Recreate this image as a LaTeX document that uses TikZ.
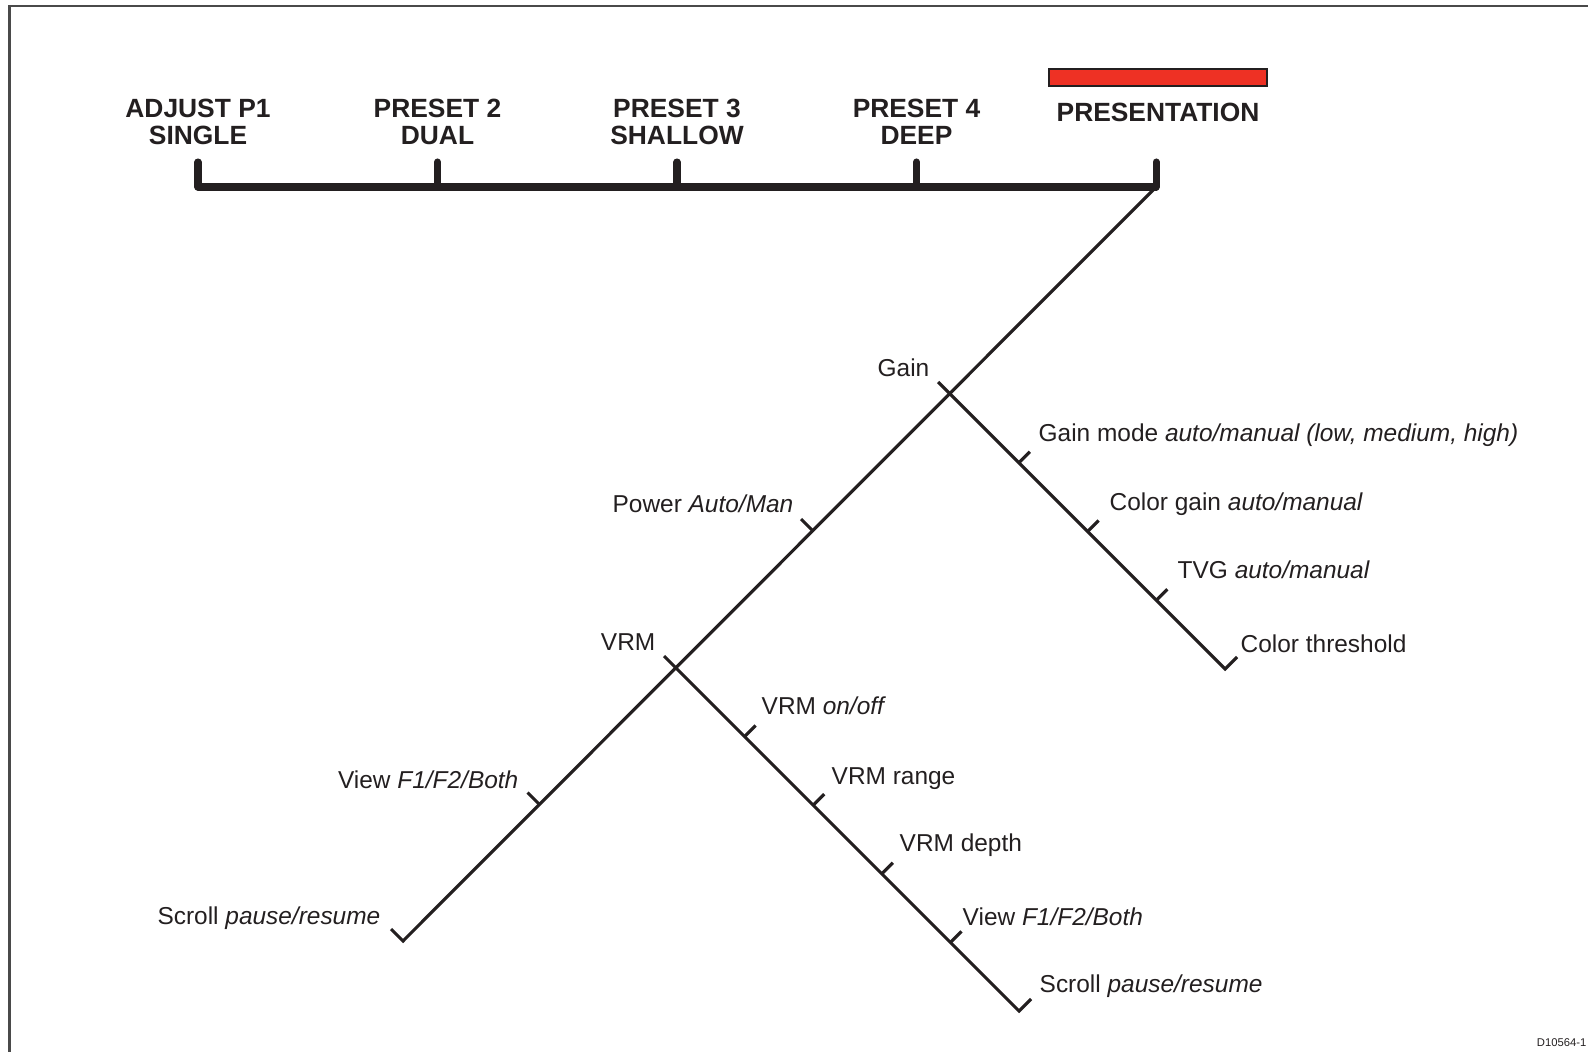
\documentclass[tikz,border=0pt]{standalone}
\usepackage{fontspec}
\setmainfont{Liberation Sans}
\usetikzlibrary{calc}

\begin{document}
\begin{tikzpicture}[x=0.01cm,y=-0.01cm,
  titolo/.style={font=\fontsize{7.5pt}{7.7pt}\selectfont\bfseries, text=testo, inner sep=0pt},
  etichetta/.style={font=\fontsize{6.95pt}{8pt}\selectfont, text=testo, inner sep=0pt},
  barra/.style={line width=2pt, draw=testo, line cap=round, line join=round},
  ramo/.style={line width=0.9pt, draw=testo},
  cornice/.style={line width=0.6pt, draw=grigioCornice}]

% Colori
\definecolor{testo}{HTML}{231F20}
\definecolor{rossoSel}{HTML}{EE3124}
\definecolor{grigioCornice}{HTML}{4A4A4A}

% Lunghezza delle tacche
\def\t{12}

\useasboundingbox (0,0) rectangle (1588,1052);

% Cornice
\draw[cornice] (1588,6) -- (9.5,6) -- (9.5,1052);

% Barra dei preset
\draw[barra] (198,162) -- (198,187) -- (1156,187) -- (1156,162);
\foreach \x in {437.5,677,916.5}
  \draw[barra] (\x,162) -- (\x,187);

\foreach \x/\a/\b/\n in {198/ADJUST P1/SINGLE/pUno, 437.5/PRESET 2/DUAL/pDue,
                         677/PRESET 3/SHALLOW/pTre, 916.5/PRESET 4/DEEP/pQuattro} {
  \node[titolo, anchor=base] (\n a) at (\x,118) {\a};
  \node[titolo, anchor=base] (\n b) at (\x,145) {\b};
}

% Voce selezionata
\fill[rossoSel, draw=testo, line width=0.3pt] (1049,69) rectangle (1267,86);
\node[titolo, anchor=base] (pres) at (1158,122) {PRESENTATION};

% Punti dei rami
\coordinate (angolo) at (1156,187);
\coordinate (jGain) at (950,394);
\coordinate (jVrm) at (676,668);
\coordinate (fondo) at (403,941);
\coordinate (fineGain) at (1225,669);
\coordinate (fineVrm) at (1019,1011);

% Ramo principale
\draw[ramo] (angolo) -- (fondo) -- ++(-\t,-\t);
\draw[ramo] ($(jGain)!0.5!(jVrm)$) -- ++(-\t,-\t);
\draw[ramo] ($(jVrm)!0.5!(fondo)$) -- ++(-\t,-\t);

% Ramo Gain
\draw[ramo] ($(jGain)+(-\t,-\t)$) -- (fineGain) -- ++(\t,-\t);
\foreach \k in {1,2,3}
  \draw[ramo] ($(jGain)!\k/4!(fineGain)$) -- ++(11,-11);

% Ramo VRM
\draw[ramo] ($(jVrm)+(-\t,-\t)$) -- (fineVrm) -- ++(\t,-\t);
\foreach \k in {1,2,3,4}
  \draw[ramo] ($(jVrm)!\k/5!(fineVrm)$) -- ++(11,-11);

% Etichette
\node[etichetta, anchor=base east] (gain) at (930,377) {Gain};
\node[etichetta, anchor=base west] (gainMode) at (1038,442) {Gain mode \textit{auto/manual (low, medium, high)}};
\node[etichetta, anchor=base west] (colorGain) at (1109,511) {Color gain \textit{auto/manual}};
\node[etichetta, anchor=base west] (tvg) at (1177,578) {TVG \textit{auto/manual}};
\node[etichetta, anchor=base west] (colorThr) at (1240,652) {Color threshold};

\node[etichetta, anchor=base east] (power) at (794,512) {Power \textit{Auto/Man}};
\node[etichetta, anchor=base east] (vrm) at (656,650) {VRM};
\node[etichetta, anchor=base west] (vrmOnOff) at (761,714) {VRM \textit{on/off}};
\node[etichetta, anchor=base west] (vrmRange) at (831,784) {VRM range};
\node[etichetta, anchor=base west] (vrmDepth) at (899,851) {VRM depth};
\node[etichetta, anchor=base west] (viewDx) at (962,925) {View \textit{F1/F2/Both}};
\node[etichetta, anchor=base west] (scrollDx) at (1039,992) {Scroll \textit{pause/resume}};

\node[etichetta, anchor=base east] (viewSx) at (519,788) {View \textit{F1/F2/Both}};
\node[etichetta, anchor=base east] (scrollSx) at (381,924) {Scroll \textit{pause/resume}};

% Codice disegno
\node[font=\fontsize{3.2pt}{4pt}\selectfont, text=testo, inner sep=0pt, anchor=base east] (codice) at (1587,1046) {D10564-1};

\end{tikzpicture}
\end{document}
